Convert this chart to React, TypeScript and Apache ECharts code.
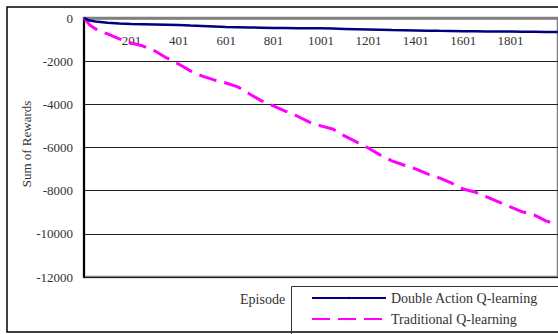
import React, { useEffect, useRef } from "react";
import * as echarts from "echarts";

const episodes = [1, 25, 50, 100, 150, 200, 250, 300, 350, 400, 450, 500, 550, 600, 650, 700, 750, 800, 850, 900, 950, 1000, 1050, 1100, 1150, 1200, 1250, 1300, 1350, 1400, 1450, 1500, 1550, 1600, 1650, 1700, 1750, 1800, 1850, 1900, 1950, 2000];
const doubleAction = [0, -120, -160, -220, -255, -280, -290, -300, -312, -325, -348, -370, -392, -415, -428, -440, -450, -460, -465, -470, -475, -480, -492, -505, -518, -530, -543, -555, -565, -575, -585, -595, -603, -610, -615, -620, -625, -630, -635, -640, -645, -650];
const traditional = [0, -320, -510, -740, -970, -1160, -1300, -1530, -1850, -2130, -2450, -2690, -2870, -3010, -3190, -3520, -3840, -4070, -4310, -4540, -4810, -5000, -5140, -5460, -5740, -6020, -6340, -6620, -6810, -6990, -7220, -7410, -7640, -7920, -8060, -8290, -8520, -8750, -8980, -9120, -9400, -9580];
const xTickLabels = [201, 401, 601, 801, 1001, 1201, 1401, 1601, 1801];
const seriesNames = ["Double Action Q-learning", "Traditional Q-learning"];
const xTitle = "Episode";
const yTitle = "Sum of Rewards";

const FONT = "Liberation Serif";

export default function App() {
  const ref = useRef<HTMLDivElement>(null);
  useEffect(() => {
    if (!ref.current) return;
    const chart = echarts.init(ref.current, null, { renderer: "svg" });
    chart.setOption({
      animation: false,
      backgroundColor: "#ffffff",
      textStyle: { fontFamily: FONT },
      grid: { left: 84, top: 18, width: 480, height: 259, show: true, borderColor: "#808080", borderWidth: 2.5, backgroundColor: "transparent" },
      xAxis: {
        type: "value",
        position: "top",
        min: 1,
        max: 2001,
        axisLine: { show: true, onZero: false, lineStyle: { color: "#808080", width: 2.5 } },
        axisTick: { show: false },
        splitLine: { show: false },
        axisLabel: {
          inside: true,
          customValues: xTickLabels,
          formatter: (v: number) => String(v),
          margin: 16,
          fontSize: 13,
          color: "#333",
          fontFamily: FONT,
        },
      },
      yAxis: {
        type: "value",
        min: -12000,
        max: 0,
        interval: 2000,
        axisLine: { show: true, onZero: false, lineStyle: { color: "#000", width: 2 } },
        axisTick: { show: false },
        splitLine: { show: true, lineStyle: { color: "#222", width: 1 } },
        axisLabel: { formatter: (v: number) => String(v), margin: 11, fontSize: 13, color: "#333", fontFamily: FONT },
      },
      legend: {
        show: true,
        orient: "vertical",
        left: 306,
        top: 286,
        itemWidth: 74,
        itemHeight: 3,
        itemGap: 7,
        textStyle: { fontSize: 14, color: "#333", fontFamily: FONT },
        data: seriesNames,
      },
      graphic: [
        { type: "rect", shape: { x: 7, y: 7, width: 570, height: 325 }, style: { fill: "none", stroke: "#000", lineWidth: 1.5 }, silent: true },
        { type: "rect", shape: { x: 291.5, y: 286.5, width: 300, height: 50 }, style: { fill: "none", stroke: "#333", lineWidth: 1 }, silent: true },
        { type: "text", x: 240, y: 292, style: { text: xTitle, fontSize: 14, fill: "#333", fontFamily: FONT } },
        { type: "text", x: 26, y: 144, rotation: Math.PI / 2, style: { text: yTitle, fontSize: 13, fill: "#333", fontFamily: FONT, align: "center", verticalAlign: "middle" } },
      ],
      series: [
        {
          name: seriesNames[0],
          type: "line",
          data: episodes.map((e, i) => [e, doubleAction[i]]),
          showSymbol: false,
          symbol: "none",
          lineStyle: { color: "#000080", width: 2.5 },
          itemStyle: { color: "#000080" },
          z: 3,
        },
        {
          name: seriesNames[1],
          type: "line",
          data: episodes.map((e, i) => [e, traditional[i]]),
          showSymbol: false,
          symbol: "none",
          lineStyle: { color: "#ff00ff", width: 3, type: [18, 8] },
          itemStyle: { color: "#ff00ff" },
          z: 2,
        },
      ],
    });
    return () => chart.dispose();
  }, []);
  return <div ref={ref} style={{ position: "fixed", left: 0, top: 0, width: 558, height: 334 }} />;
}
